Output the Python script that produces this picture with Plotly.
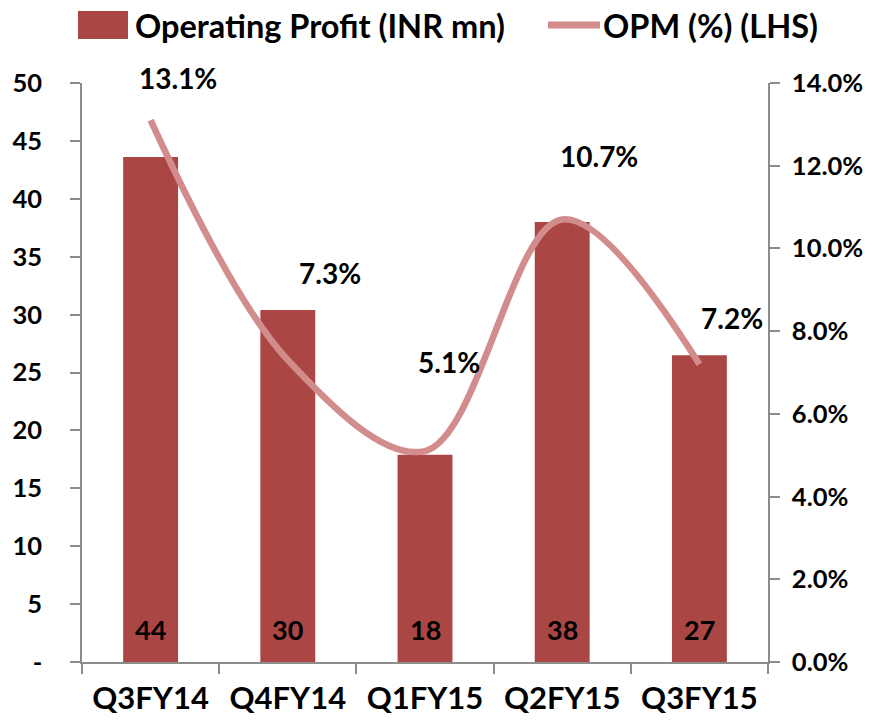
import plotly.graph_objects as go

categories = ["Q3FY14", "Q4FY14", "Q1FY15", "Q2FY15", "Q3FY15"]
op_profit = [43.6, 30.4, 17.9, 38.0, 26.5]
op_profit_labels = ["44", "30", "18", "38", "27"]
opm_pct = [13.1, 7.3, 5.1, 10.7, 7.2]
left_ticks = [0, 5, 10, 15, 20, 25, 30, 35, 40, 45, 50]
left_ticktext = ["-", "5", "10", "15", "20", "25", "30", "35", "40", "45", "50"]
right_ticks = [0, 2, 4, 6, 8, 10, 12, 14]
right_ticktext = ["0.0%", "2.0%", "4.0%", "6.0%", "8.0%", "10.0%", "12.0%", "14.0%"]

# label offsets (pixels) for OPM labels
label_dx = [27, 42, 24, 37, 33]
label_dy = [42, 87, 89, 63, 46]

FONT = "Lato, Roboto, sans-serif"
BAR_COLOR = "#AA4644"
LINE_COLOR = "#D28C8C"
AXIS_COLOR = "#8C8C8C"

W, H = 881, 728
L, R, T, B = 82, 113, 83, 66
PW, PH = W - L - R, H - T - B

def px(xp):
    return (xp - L) / PW

def py(yp):
    return (H - B - yp) / PH

fig = go.Figure()
fig.add_trace(go.Bar(
    x=categories, y=op_profit, name="Operating Profit (INR mn)",
    marker=dict(color=BAR_COLOR, line=dict(width=0)),
    width=0.4, showlegend=False,
))
fig.add_trace(go.Scatter(
    x=categories, y=opm_pct, name="OPM (%) (LHS)", yaxis="y2",
    mode="lines", line=dict(color=LINE_COLOR, width=6.5, shape="spline", smoothing=1),
    showlegend=False,
))

annotations = []
for c, lab in zip(categories, op_profit_labels):
    annotations.append(dict(
        x=c, y=0, xref="x", yref="y", text=lab, showarrow=False,
        xanchor="center", yanchor="bottom", yshift=14,
        font=dict(family=FONT, size=27, color="black", weight="bold"),
    ))
for c, v, dx, dy in zip(categories, opm_pct, label_dx, label_dy):
    annotations.append(dict(
        x=c, y=v, xref="x", yref="y2", text=f"{v:.1f}%", showarrow=False,
        xshift=dx, yshift=dy, xanchor="center", yanchor="middle",
        font=dict(family=FONT, size=28, color="black", weight="bold"),
    ))

# custom legend
annotations.append(dict(x=px(133), y=py(25), xref="paper", yref="paper",
                        text="Operating Profit (INR mn)", showarrow=False,
                        xanchor="left", yanchor="middle",
                        font=dict(family=FONT, size=32.5, color="black", weight="bold")))
annotations.append(dict(x=px(601), y=py(25), xref="paper", yref="paper",
                        text="OPM (%) (LHS)", showarrow=False,
                        xanchor="left", yanchor="middle",
                        font=dict(family=FONT, size=32.5, color="black", weight="bold")))
shapes = [
    dict(type="rect", xref="paper", yref="paper", x0=px(78), x1=px(128), y0=py(11), y1=py(39),
         fillcolor=BAR_COLOR, line=dict(width=0)),
    dict(type="line", xref="paper", yref="paper", x0=px(548), x1=px(600), y0=py(25), y1=py(25),
         line=dict(color=LINE_COLOR, width=7)),
]

fig.update_layout(
    width=W, height=H, margin=dict(l=L, r=R, t=T, b=B, pad=0, autoexpand=False),
    paper_bgcolor="white", plot_bgcolor="white",
    font=dict(family=FONT, color="black"),
    showlegend=False,
    annotations=annotations, shapes=shapes,
    xaxis=dict(
        type="category", range=[-0.5, 4.5], showgrid=False, zeroline=False, automargin=False,
        showline=True, linecolor=AXIS_COLOR, linewidth=1.5,
        ticks="outside", ticklen=10, tickcolor=AXIS_COLOR, tickwidth=1.5,
        tickson="boundaries", ticklabelstandoff=8,
        tickfont=dict(family=FONT, size=31, color="black", weight="bold"),
    ),
    yaxis=dict(
        range=[0, 50], tickvals=left_ticks, ticktext=left_ticktext, automargin=False,
        showgrid=False, zeroline=False, showline=True, linecolor=AXIS_COLOR, linewidth=1.5,
        ticks="outside", ticklen=10, tickcolor=AXIS_COLOR, tickwidth=1.5,
        ticklabelstandoff=23,
        tickfont=dict(family=FONT, size=25.5, color="black", weight="bold"),
    ),
    yaxis2=dict(
        range=[0, 14], tickvals=right_ticks, ticktext=right_ticktext, automargin=False,
        overlaying="y", side="right", anchor="x",
        showgrid=False, zeroline=False, showline=True, linecolor=AXIS_COLOR, linewidth=1.5,
        ticks="outside", ticklen=10, tickcolor=AXIS_COLOR, tickwidth=1.5,
        ticklabelstandoff=7,
        tickfont=dict(family=FONT, size=25.5, color="black", weight="bold"),
    ),
)

fig.write_html("out.html", config={"displayModeBar": False},
               post_script="document.body.style.margin='0';")
